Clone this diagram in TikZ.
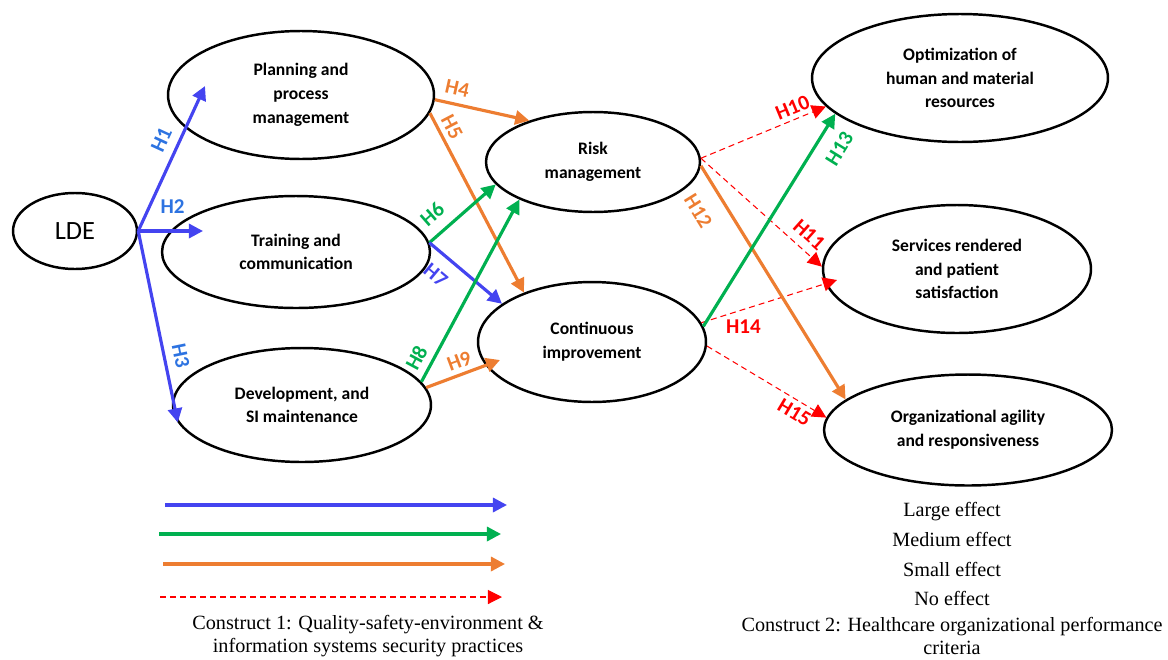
\documentclass[tikz,border=0pt]{standalone}
\usepackage{fontspec}
\setmainfont{Carlito}
\newfontfamily\timesfont{Liberation Serif}
\usetikzlibrary{arrows.meta,shapes.geometric}

\definecolor{fxblue}{RGB}{68,68,240}
\definecolor{hblue}{RGB}{45,115,225}
\definecolor{fxgreen}{RGB}{0,176,80}
\definecolor{fxorange}{RGB}{237,125,49}
\definecolor{fxred}{RGB}{255,0,0}

\begin{document}
\begin{tikzpicture}[x=0.02cm, y=-0.02cm, >={Triangle[length=8pt,width=8pt]},
	construct/.style={ellipse, draw, line width=1.4pt, inner sep=0pt, align=center,
		font=\fontsize{10}{13.5}\selectfont\bfseries},
	fxlarge/.style={->, fxblue, line width=1.8pt},
	fxmedium/.style={->, fxgreen, line width=1.8pt},
	fxsmall/.style={->, fxorange, line width=1.8pt},
	fxnone/.style={->, fxred, line width=0.6pt, dash pattern=on 3.4pt off 2.3pt},
	hyp/.style={font=\fontsize{12}{12}\selectfont\bfseries, inner sep=1pt},
	keytext/.style={font=\timesfont\fontsize{11.5}{13}\selectfont, align=center}]
	\useasboundingbox (0,0) rectangle (1168,659);

	% constructs
	\node[construct, minimum width=2.48cm, minimum height=1.52cm,
		font=\fontsize{15}{18}\selectfont] (lde) at (75,231) {LDE};
	\node[construct, minimum width=5.32cm, minimum height=2.56cm] (plan) at (301,95) {Planning and\\process\\management};
	\node[construct, minimum width=5.36cm, minimum height=2.24cm] (train) at (296,252) {Training and\\communication};
	\node[construct, minimum width=5.16cm, minimum height=2.28cm] (dev) at (302,405) {Development, and\\SI maintenance};
	\node[construct, minimum width=4.28cm, minimum height=2.0cm] (risk) at (593,162) {Risk\\management};
	\node[construct, minimum width=4.56cm, minimum height=2.4cm] (cont) at (592,342) {Continuous\\improvement};
	\node[construct, minimum width=5.92cm, minimum height=2.56cm] (opt) at (960,78) {Optimization of\\human and material\\resources};
	\node[construct, minimum width=5.36cm, minimum height=2.56cm] (serv) at (957,269) {Services rendered\\and patient\\satisfaction};
	\node[construct, minimum width=5.76cm, minimum height=2.22cm] (org) at (968,430) {Organizational agility\\and responsiveness};

	\coordinate (h1end) at (205,86);
	\coordinate (h2end) at (203,231);
	\coordinate (h9end) at (500,360);
	\coordinate (h14end) at (837,280);

	% hypotheses
	\draw[fxlarge] (lde.east) -- node[hyp, hblue, pos=0.58, sloped, above=4pt] {H1} (h1end);
	\draw[fxlarge] (lde.east) -- node[hyp, hblue, pos=0.53, above=8pt] {H2} (h2end);
	\draw[fxlarge] (lde.east) -- node[hyp, hblue, pos=0.67, sloped, above=3.4pt] {H3} (dev.188);
	\draw[fxsmall] (plan.-2) -- node[hyp, pos=0.2, sloped, above=3.4pt] {H4} (risk.147);
	\draw[fxsmall] (plan.-8) -- node[hyp, pos=0.11, sloped, above=1.7pt] {H5} (cont.144);
	\draw[fxmedium] (train.4) -- node[hyp, pos=0.235, sloped, above=5pt] {H6} (risk.193);
	\draw[fxlarge] (train.4) -- node[hyp, pos=0.27, sloped, below=6pt] {H7} (cont.157);
	\draw[fxmedium] (dev.11) -- node[hyp, pos=0.09, sloped, above=2.8pt] {H8} (risk.207);
	\draw[fxsmall] (dev.8) -- node[hyp, pos=0.51, sloped, above=1.6pt] {H9} (h9end);
	\draw[fxnone] (risk.2) -- node[hyp, pos=0.77, sloped, above=1.6pt] {H10} (opt.192);
	\draw[fxnone] (risk.2) -- node[hyp, pos=0.81, sloped, above=3.6pt] {H11} (serv.179);
	\draw[fxnone] (cont.10) -- node[hyp, pos=0.31, below=4.8pt] {H14} (h14end);
	\draw[fxnone] (cont.-2) -- node[hyp, pos=0.785, sloped, below=1.6pt] {H15} (org.175);
	\draw[fxsmall] (risk.-2) -- node[hyp, pos=0.135, sloped, below=9pt] {H12} (org.166);
	\draw[fxmedium] (cont.8) -- node[hyp, pos=0.89, sloped, below=6.6pt] {H13} (opt.196);

	% key
	\coordinate (k1a) at (165,505); \coordinate (k1b) at (507,505);
	\coordinate (k2a) at (159,534); \coordinate (k2b) at (501,534);
	\coordinate (k3a) at (163,564); \coordinate (k3b) at (505,564);
	\coordinate (k4a) at (160,597); \coordinate (k4b) at (502,597);
	\draw[fxlarge] (k1a) -- (k1b);
	\draw[fxmedium] (k2a) -- (k2b);
	\draw[fxsmall] (k3a) -- (k3b);
	\draw[fxnone] (k4a) -- (k4b);

	\node[keytext, anchor=base] (large) at (952,516) {Large effect};
	\node[keytext, anchor=base] (medium) at (952,546) {Medium effect};
	\node[keytext, anchor=base] (small) at (952,576) {Small effect};
	\node[keytext, anchor=base] (none) at (952,605) {No effect};
	\node[keytext] (cons1) at (368,636) {Construct 1: Quality-safety-environment \&\\information systems security practices};
	\node[keytext] (cons2) at (952,636) {Construct 2: Healthcare organizational performance\\criteria};
\end{tikzpicture}
\end{document}
